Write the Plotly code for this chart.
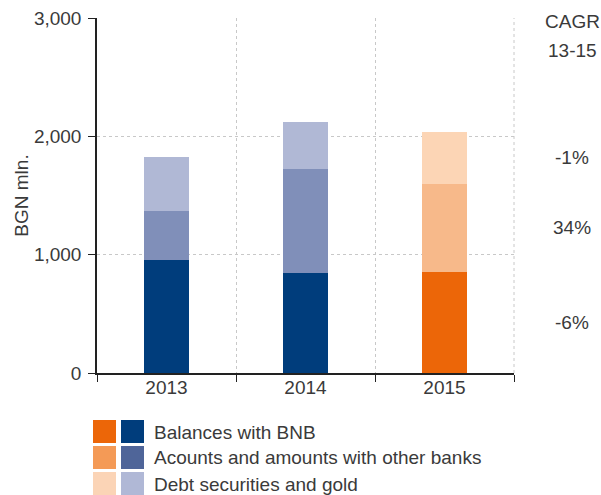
import plotly.graph_objects as go

years = ["2013", "2014", "2015"]
balances_bnb = [955, 845, 854]
other_banks = [414, 879, 744]
debt_gold = [459, 396, 442]
totals = [1828, 2120, 2040]
totals_text = ["1,828", "2,120", "2,040"]
cagr_labels = ["-6%", "34%", "-1%"]
series_names = ["Balances with BNB", "Acounts and amounts with other banks", "Debt securities and gold"]

blue_bar = ["#003d7c", "#808fb9", "#b0b8d5"]
orange_bar = ["#ec6608", "#f7b98a", "#fcd5b5"]
blue_leg = ["#003d7c", "#4f6599", "#b0b8d6"]
orange_leg = ["#ec6608", "#f49a56", "#fbd4b6"]

FONT = "Liberation Sans"
TXT = "#3a3a3a"
FS = 19

W, H = 601, 495
L, R, T, B = 97, 514, 18, 373  # plot area in page pixels


def px(xp):
    return (xp - L) / (R - L)


def py(yp):
    return (B - yp) / (B - T)


fig = go.Figure()
for i, vals in enumerate([balances_bnb, other_banks, debt_gold]):
    colors = [blue_bar[i], blue_bar[i], orange_bar[i]]
    fig.add_trace(go.Bar(x=years, y=vals, name=series_names[i], marker=dict(color=colors, line=dict(width=0)),
                         width=0.33, showlegend=False, hoverinfo="skip"))

annotations = []
for x, t, txt in zip(years, totals, totals_text):
    annotations.append(dict(x=x, y=t, text=txt, showarrow=False, yanchor="bottom", yshift=5,
                            xanchor="center", font=dict(family=FONT, size=FS, color=TXT)))

# CAGR labels at the middle of each 2015 segment
CX = 572
base = 0
segs = [balances_bnb[2], other_banks[2], debt_gold[2]]
for lab, s in zip(cagr_labels, segs):
    annotations.append(dict(xref="paper", x=px(CX), y=base + s / 2, text=lab, showarrow=False,
                            xanchor="center", yanchor="middle",
                            font=dict(family=FONT, size=FS, color=TXT)))
    base += s
annotations.append(dict(xref="paper", yref="paper", x=px(CX), y=py(22), text="CAGR", showarrow=False,
                        xanchor="center", yanchor="middle", font=dict(family=FONT, size=FS, color=TXT)))
annotations.append(dict(xref="paper", yref="paper", x=px(CX), y=py(50), text="13-15", showarrow=False,
                        xanchor="center", yanchor="middle", font=dict(family=FONT, size=FS, color=TXT)))

shapes = [dict(type="line", xref="paper", yref="paper", x0=1, x1=1, y0=0, y1=1,
               line=dict(color="#c8c8c8", width=1, dash="dot"), layer="below")]
row_tops = [420, 446, 472]
for i, top in enumerate(row_tops):
    shapes.append(dict(type="rect", xref="paper", yref="paper", x0=px(93), x1=px(116), y0=py(top + 23), y1=py(top),
                       fillcolor=orange_leg[i], line=dict(width=0)))
    shapes.append(dict(type="rect", xref="paper", yref="paper", x0=px(121), x1=px(144), y0=py(top + 23), y1=py(top),
                       fillcolor=blue_leg[i], line=dict(width=0)))
    annotations.append(dict(xref="paper", yref="paper", x=px(154), y=py(top + 12), text=series_names[i],
                            showarrow=False, xanchor="left", yanchor="middle", xshift=-2,
                            font=dict(family=FONT, size=FS, color=TXT)))

fig.update_layout(
    barmode="stack",
    width=W, height=H,
    margin=dict(l=L, r=W - R, t=T, b=H - B, autoexpand=False),
    paper_bgcolor="white", plot_bgcolor="white",
    font=dict(family=FONT, size=FS, color=TXT),
    annotations=annotations,
    shapes=shapes,
    xaxis=dict(type="category", range=[-0.5, 2.5], tickson="boundaries", ticks="outside", ticklen=7,
               tickcolor="#222", showline=True, linecolor="#222", linewidth=1.5, automargin=False,
               showgrid=True, gridcolor="#c8c8c8", griddash="dot", gridwidth=1, ticklabelstandoff=-4,
               ticklabeloverflow="allow",
               tickfont=dict(family=FONT, size=FS, color=TXT)),
    yaxis=dict(range=[0, 3000], tickvals=[0, 1000, 2000, 3000], ticktext=["0", "1,000", "2,000", "3,000"],
               ticks="outside", ticklen=7, tickcolor="#222", showline=True, linecolor="#222", linewidth=1.5,
               showgrid=True, gridcolor="#c8c8c8", griddash="dot", gridwidth=1, zeroline=False, automargin=False,
               ticklabelstandoff=3, ticklabeloverflow="allow",
               title=dict(text="BGN mln.", font=dict(family=FONT, size=FS, color=TXT), standoff=0),
               tickfont=dict(family=FONT, size=FS, color=TXT)),
)

fig.write_html("out.html", config={"displayModeBar": False},
               post_script="document.body.style.margin='0px';document.body.style.overflow='hidden';")
